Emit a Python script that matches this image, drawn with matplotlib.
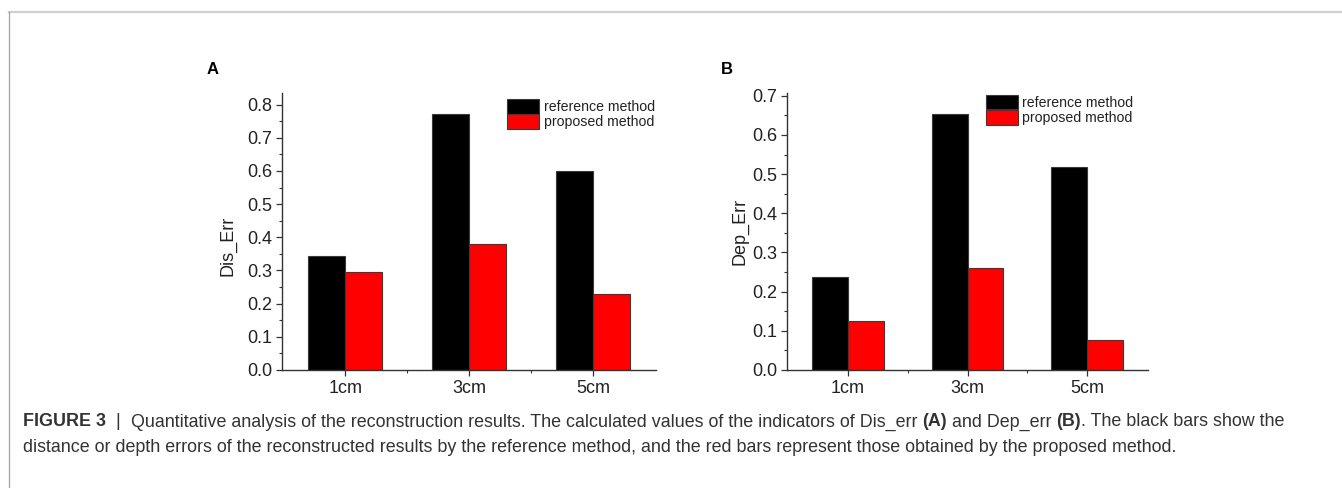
import matplotlib
matplotlib.use("Agg")
import matplotlib.pyplot as plt
import numpy as np
from matplotlib.ticker import MultipleLocator, FormatStrFormatter, FixedLocator
from matplotlib.lines import Line2D

plt.rcParams['font.family'] = ['Liberation Sans', 'DejaVu Sans']

categories = ["1cm", "3cm", "5cm"]
series_names = ["reference method", "proposed method"]
dis_reference = [0.345, 0.771, 0.600]
dis_proposed = [0.294, 0.380, 0.228]
dep_reference = [0.238, 0.654, 0.517]
dep_proposed = [0.125, 0.260, 0.077]
series_colors = ["#000000", "#ff0000"]

W, H = 1342, 488
fig = plt.figure(figsize=(W / 100, H / 100), dpi=100)


def px_axes(left, top, right, bottom):
    return fig.add_axes([left / W, 1 - bottom / H, (right - left) / W, (bottom - top) / H])


def draw_panel(ax, ref, prop, ymax, ylabel, leg_anchor, label_xy):
    x = np.arange(1, len(categories) + 1)
    w = 0.3
    ax.bar(x - w / 2, ref, w, color=series_colors[0], edgecolor="#3a3a3a",
           linewidth=0.8, label=series_names[0])
    ax.bar(x + w / 2, prop, w, color=series_colors[1], edgecolor="#3a3a3a",
           linewidth=0.8, label=series_names[1])
    ax.set_xlim(0.49, 3.51)
    ax.set_ylim(0, ymax)
    ax.set_xticks(x)
    ax.set_xticklabels(categories)
    ax.xaxis.set_minor_locator(FixedLocator([1.5, 2.5]))
    ax.yaxis.set_major_locator(MultipleLocator(0.1))
    ax.yaxis.set_minor_locator(MultipleLocator(0.05))
    ax.yaxis.set_major_formatter(FormatStrFormatter('%.1f'))
    for s in ["top", "right"]:
        ax.spines[s].set_visible(False)
    for s in ["left", "bottom"]:
        ax.spines[s].set_color("#333333")
        ax.spines[s].set_linewidth(1.0)
    ax.tick_params(which="major", direction="out", length=4, width=0.9,
                   color="#333333", labelsize=13, labelcolor="#222222", pad=3)
    ax.tick_params(which="minor", direction="out", length=2.5, width=0.8,
                   color="#333333")
    ax.set_ylabel(ylabel, fontsize=13, color="#222222")
    ax.yaxis.set_label_coords(*label_xy)
    leg = ax.legend(loc="upper left", bbox_to_anchor=leg_anchor, frameon=False,
                    fontsize=10.2, handlelength=2.3, handleheight=1.2,
                    labelspacing=0.0, handletextpad=0.3, borderpad=0,
                    borderaxespad=0)
    for t in leg.get_texts():
        t.set_color("#222222")


axA = px_axes(282, 93, 656, 370)
draw_panel(axA, dis_reference, dis_proposed, 0.835, "Dis_Err", (0.601, 0.977), (-0.121, 0.448))
axB = px_axes(787, 93, 1148, 370)
draw_panel(axB, dep_reference, dep_proposed, 0.707, "Dep_Err", (0.550, 0.993), (-0.107, 0.5))

fig.text(213 / W, 1 - 70 / H, "A", fontsize=12, fontweight="bold", ha="center", va="center")
fig.text(727 / W, 1 - 69 / H, "B", fontsize=12, fontweight="bold", ha="center", va="center")

# frame lines
fig.add_artist(Line2D([9 / W, 1], [1 - 12 / H, 1 - 12 / H], color="#d0d0d0", linewidth=1.6,
                      transform=fig.transFigure))
fig.add_artist(Line2D([9 / W, 9 / W], [1 - 12 / H, 0], color="#a0a0a0", linewidth=0.9,
                      transform=fig.transFigure))

# caption
cap_lines = [
    [("FIGURE 3", "bold"), ("  |  ", "normal"),
     ("Quantitative analysis of the reconstruction results. The calculated values of the indicators of Dis_err ", "normal"),
     ("(A)", "bold"), (" and Dep_err ", "normal"), ("(B)", "bold"),
     (". The black bars show the", "normal")],
    [("distance or depth errors of the reconstructed results by the reference method, and the red bars represent those obtained by the proposed method.", "normal")],
]
cap_y = [422, 447]
fig.canvas.draw()
renderer = fig.canvas.get_renderer()
for line, yy in zip(cap_lines, cap_y):
    xx = 23
    for txt, wt in line:
        t = fig.text(xx / W, 1 - yy / H, txt, fontsize=12.9, fontweight=wt,
                     color="#333333", ha="left", va="center")
        bb = t.get_window_extent(renderer)
        xx += bb.width

fig.savefig("out.png", dpi=100)
